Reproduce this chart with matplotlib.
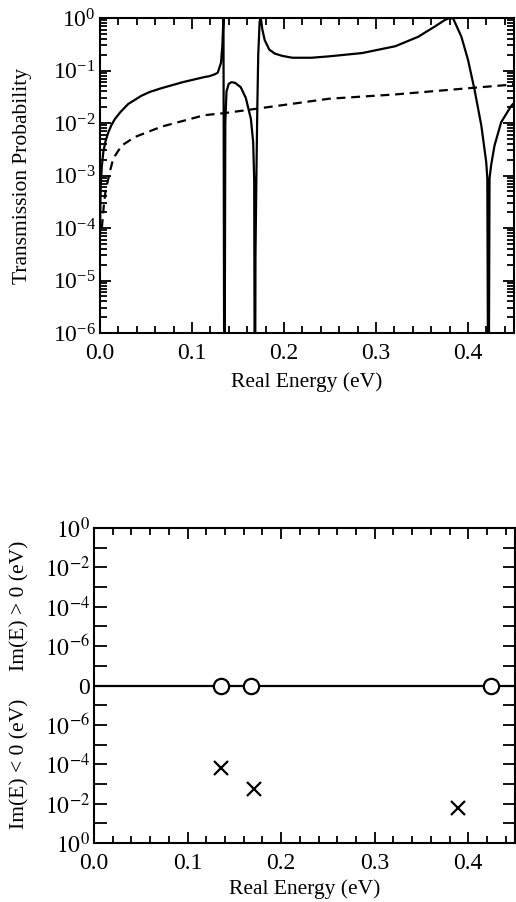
import numpy as np
import matplotlib
matplotlib.use("Agg")
import matplotlib.pyplot as plt
from matplotlib.ticker import LogLocator, MultipleLocator, NullFormatter, FixedLocator

plt.rcParams['font.family'] = ['Liberation Serif', 'DejaVu Serif']
plt.rcParams['mathtext.fontset'] = 'stix'

# --- transmission curves ---
e_solid = [0.0001, 0.0005, 0.001, 0.002, 0.0036, 0.006, 0.009, 0.0125, 0.0162, 0.022,
           0.0306, 0.045, 0.054, 0.0667, 0.09, 0.1135, 0.119, 0.125, 0.128, 0.1315,
           0.1330, 0.1342, 0.1352, 0.1362, 0.1375, 0.1400, 0.1430, 0.1470, 0.1530,
           0.1585, 0.1640, 0.1665, 0.1676, 0.1684, 0.1690, 0.1700, 0.1710, 0.1720,
           0.1735, 0.1748, 0.1765, 0.1790, 0.184, 0.190, 0.198, 0.209, 0.230, 0.249,
           0.285, 0.321, 0.346, 0.364, 0.375, 0.380, 0.384, 0.3928, 0.400, 0.407,
           0.4145, 0.4198, 0.4210, 0.4222, 0.4234, 0.4252, 0.4288, 0.436, 0.4468, 0.45]
t_solid = [8e-5, 3.8e-4, 7.5e-4, 1.5e-3, 2.8e-3, 4.5e-3, 6.6e-3, 9.2e-3, 0.0119, 0.016,
           0.023, 0.033, 0.039, 0.046, 0.060, 0.075, 0.078, 0.085, 0.091, 0.14,
           0.30, 1.0, 1e-9, 0.01, 0.04, 0.056, 0.060, 0.058, 0.048,
           0.030, 0.012, 0.0043, 0.0008, 1e-9, 3e-5, 1e-3, 0.02, 0.2,
           0.85, 1.0, 0.6, 0.38, 0.25, 0.21, 0.19, 0.175, 0.175, 0.186,
           0.215, 0.29, 0.44, 0.69, 0.92, 1.0, 0.97, 0.44, 0.16, 0.044,
           0.0089, 0.0018, 8.8e-4, 1e-9, 8.8e-4, 0.0016, 0.0037, 0.0103, 0.021, 0.024]

e_dash = [0.002, 0.004, 0.006, 0.0108, 0.0144, 0.0234, 0.0378, 0.0667, 0.1135, 0.135,
          0.173, 0.249, 0.321, 0.407, 0.443, 0.45]
t_dash = [1e-4, 2.5e-4, 5e-4, 0.0012, 0.0021, 0.0037, 0.0054, 0.0085, 0.0141, 0.0154,
          0.019, 0.029, 0.035, 0.047, 0.053, 0.055]

# --- zeros and poles in the complex energy plane ---
zero_re = [0.1355, 0.168, 0.424]
zero_im = [0.0, 0.0, 0.0]
pole_re = [0.1355, 0.1715, 0.3886]
pole_im = [-1.5e-4, -1.8e-3, -1.6e-2]

ylab_vals = [1, 1e-2, 1e-4, 1e-6, 0, -1e-6, -1e-4, -1e-2, -1]
ylab_text = ['$10^{0}$', '$10^{-2}$', '$10^{-4}$', '$10^{-6}$', '0',
             '$10^{-6}$', '$10^{-4}$', '$10^{-2}$', '$10^{0}$']
ymin_vals = [1e-1, 1e-3, 1e-5, 1e-7, -1e-7, -1e-5, -1e-3, -1e-1]


def fwd(v):
    v = np.asarray(v, dtype=float)
    with np.errstate(divide='ignore', invalid='ignore'):
        m = np.log10(np.abs(v)) + 8
    m = np.where(np.isfinite(m), np.clip(m, 0, None), 0)
    return np.sign(v) * m


def inv(u):
    u = np.asarray(u, dtype=float)
    return np.sign(u) * 10 ** (np.abs(u) - 8)


W, H = 516, 902
fig = plt.figure(figsize=(W / 100, H / 100), dpi=100)
ax1 = fig.add_axes([100 / W, 1 - 333 / H, 414 / W, 315 / H])
ax2 = fig.add_axes([94 / W, 1 - 843 / H, 421 / W, 315 / H])

lw = 1.6
tsize = 17

# top panel
ax1.plot(e_solid, t_solid, color='black', lw=lw)
ax1.plot(e_dash, t_dash, color='black', lw=lw, ls=(0, (4, 2.6)))
ax1.set_yscale('log')
ax1.set_xlim(0, 0.45)
ax1.set_ylim(1e-6, 1)
ax1.xaxis.set_major_locator(MultipleLocator(0.1))
ax1.xaxis.set_minor_locator(MultipleLocator(0.02))
ax1.xaxis.set_major_formatter(matplotlib.ticker.FormatStrFormatter('%.1f'))
ax1.yaxis.set_major_locator(LogLocator(base=10, numticks=10))
ax1.yaxis.set_minor_locator(LogLocator(base=10, subs=np.arange(2, 10), numticks=20))
ax1.yaxis.set_minor_formatter(NullFormatter())
ax1.set_xlabel('Real Energy (eV)', fontsize=15.5, labelpad=6)
ax1.set_ylabel('Transmission Probability', fontsize=15.5)
ax1.yaxis.set_label_coords(-68 / 414, 0.5)

# bottom panel
ax2.set_yscale('function', functions=(fwd, inv))
ax2.axhline(0, color='black', lw=lw, zorder=2)
ax2.plot(zero_re, zero_im, 'o', ms=11, mfc='white', mec='black', mew=1.6, zorder=3)
ax2.plot(pole_re, pole_im, 'x', ms=10, mec='black', mew=1.6, zorder=3)
ax2.set_xlim(0, 0.45)
ax2.set_ylim(-1, 1)
ax2.xaxis.set_major_locator(MultipleLocator(0.1))
ax2.xaxis.set_minor_locator(MultipleLocator(0.02))
ax2.xaxis.set_major_formatter(matplotlib.ticker.FormatStrFormatter('%.1f'))
ax2.yaxis.set_major_locator(FixedLocator(ylab_vals))
ax2.set_yticklabels(ylab_text)
ax2.yaxis.set_minor_locator(FixedLocator(ymin_vals))
ax2.yaxis.set_minor_formatter(NullFormatter())
ax2.set_xlabel('Real Energy (eV)', fontsize=15.5, labelpad=4)
fig.text(20 / W, 1 - 606 / H, 'Im(E) > 0 (eV)', rotation=90, fontsize=15.5,
         ha='center', va='center')
fig.text(20 / W, 1 - 764 / H, 'Im(E) < 0 (eV)', rotation=90, fontsize=15.5,
         ha='center', va='center')

for ax in (ax1, ax2):
    for s in ax.spines.values():
        s.set_linewidth(1.5)
    ax.tick_params(which='both', direction='in', top=True, right=True,
                   labelsize=tsize, width=1.3)
    ax.tick_params(axis='x', pad=7)
    ax.tick_params(axis='y', pad=3)
    ax.tick_params(which='major', length=8)
    ax.tick_params(which='minor', length=5)
ax2.tick_params(axis='y', which='both', length=9)

fig.savefig('out.png', dpi=100)
